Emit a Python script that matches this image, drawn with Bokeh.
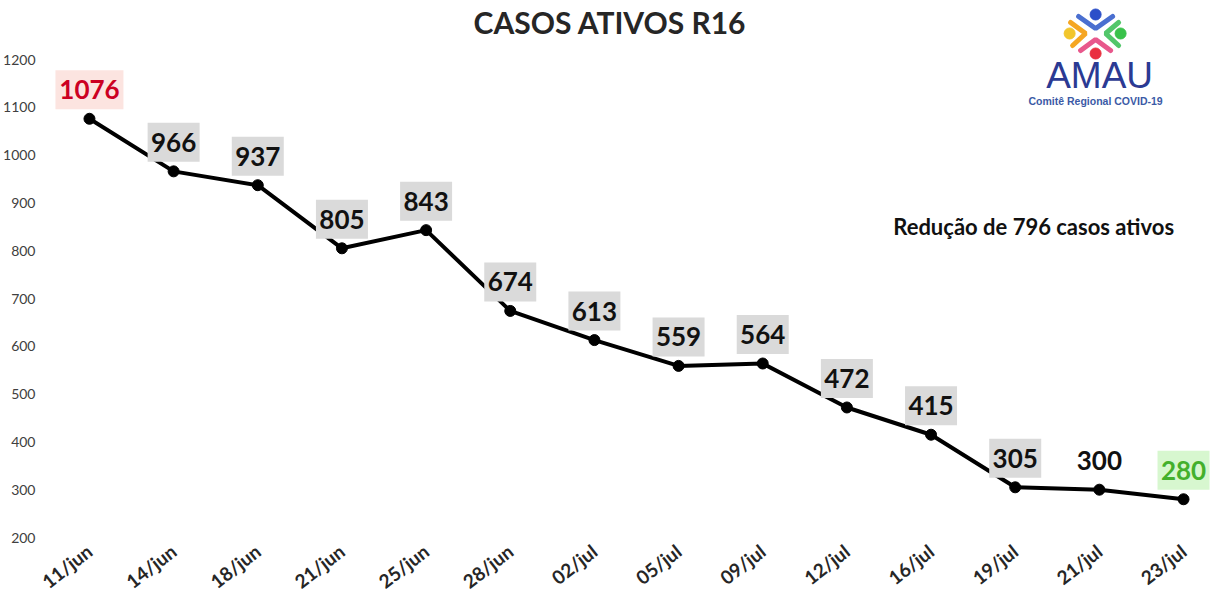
import numpy as np
from bokeh.plotting import figure
from bokeh.models import ColumnDataSource, Range1d, FixedTicker
from bokeh.core.properties import value
from bokeh.embed import file_html
from bokeh.resources import INLINE

# data
dates = ["11/jun", "14/jun", "18/jun", "21/jun", "25/jun", "28/jun", "02/jul",
         "05/jul", "09/jul", "12/jul", "16/jul", "19/jul", "21/jul", "23/jul"]
active_cases = [1076, 966, 937, 805, 843, 674, 613, 559, 564, 472, 415, 305, 300, 280]
y_ticks = [200, 300, 400, 500, 600, 700, 800, 900, 1000, 1100, 1200]

title_text = "CASOS ATIVOS R16"
note_text = "Redução de 796 casos ativos"

# label styling per point (first red, last green, 300 without a box)
box_fill = ["#fce4e0"] + ["#dadada"] * 11 + [None, "#d7f7cf"]
label_color = ["#cc0022"] + ["#111111"] * 12 + ["#44b02c"]

FONT = "Lato"

# screen pixel -> data helpers (used only for decoration placement)
PX_PER_X = 84.23
PX_PER_Y = 0.478


def sx(px):
    return (px - 88) / PX_PER_X


def sy(py):
    return 1200 - (py - 59) / PX_PER_Y


p = figure(width=1226, height=606, output_backend="svg", toolbar_location=None,
           x_range=Range1d(sx(40), sx(1226)), y_range=Range1d(sy(545), sy(0)),
           min_border_left=40, min_border_right=0, min_border_top=0, min_border_bottom=61)
p.outline_line_color = None
p.xgrid.visible = False
p.ygrid.visible = False
p.background_fill_color = "white"
p.border_fill_color = "white"

x = np.arange(len(dates))
vals = np.array(active_cases)

p.line(x, vals, line_width=4, color="black")
p.scatter(x, vals, size=11, color="black")

# value labels with boxes
lift = 29 / PX_PER_Y
widths = [68 if v >= 1000 else 52 for v in active_cases]
src = ColumnDataSource(dict(
    x=x, y=vals + lift, w=widths,
    fill=[c if c else "white" for c in box_fill],
    alpha=[1.0 if c else 0.0 for c in box_fill],
    txt=[str(v) for v in active_cases], tc=label_color,
))
p.rect("x", "y", width="w", height=39, width_units="screen", height_units="screen",
       fill_color="fill", fill_alpha="alpha", line_color=None, source=src)
p.text("x", "y", text="txt", text_color="tc", text_font=value(FONT),
       text_font_style="bold", text_font_size="26px", text_align="center",
       text_baseline="middle", source=src)

# title and note
p.text([sx(609)], [sy(21)], text=[title_text], text_font=value(FONT),
       text_font_style="bold", text_font_size="30px", text_color="#262626",
       text_align="center", text_baseline="middle")
p.text([sx(1033)], [sy(226)], text=[note_text], text_font=value(FONT),
       text_font_style="bold", text_font_size="22px", text_color="#111111",
       text_align="center", text_baseline="middle")

# logo (approximation)
chev_x = [[sx(1078), sx(1095), sx(1112)], [sx(1070), sx(1085), sx(1072)],
          [sx(1118), sx(1105), sx(1118)], [sx(1080), sx(1095), sx(1110)]]
chev_y = [[sy(16), sy(28), sy(16)], [sy(22), sy(33), sy(45)],
          [sy(22), sy(33), sy(45)], [sy(50), sy(39), sy(50)]]
p.multi_line(chev_x, chev_y, line_width=5,
             color=["#4a6fd0", "#f5a623", "#52c66a", "#e8588c"], line_cap="round")
p.scatter([sx(1095), sx(1069), sx(1120), sx(1095)], [sy(14), sy(33), sy(33), sy(53)],
          size=11, color=["#2c4fc9", "#f2c62c", "#39c24b", "#e9303f"])
p.text([sx(1099)], [sy(75)], text=["AMAU"], text_font=value("Liberation Sans"),
       text_font_size="37px", text_color="#2b3a93", text_align="center",
       text_baseline="middle")
p.text([sx(1095)], [sy(100)], text=["Comitê Regional COVID-19"],
       text_font=value("Liberation Sans"), text_font_style="bold",
       text_font_size="10.5px", text_color="#3b5aa6", text_align="center",
       text_baseline="middle")

# axes
p.yaxis.ticker = FixedTicker(ticks=y_ticks)
p.yaxis.axis_line_color = None
p.yaxis.major_tick_line_color = None
p.yaxis.minor_tick_line_color = None
p.yaxis.major_tick_out = 0
p.yaxis.major_tick_in = 0
p.yaxis.major_label_standoff = 6
p.yaxis.major_label_text_font = FONT
p.yaxis.major_label_text_font_size = "14px"
p.yaxis.major_label_text_color = "#404040"

p.xaxis.ticker = FixedTicker(ticks=list(x))
p.xaxis.major_label_overrides = {int(i): d for i, d in zip(x, dates)}
p.xaxis.axis_line_color = None
p.xaxis.major_tick_line_color = None
p.xaxis.minor_tick_line_color = None
p.xaxis.major_tick_out = 0
p.xaxis.major_tick_in = 0
p.xaxis.major_label_orientation = 0.66
p.xaxis.major_label_standoff = 3
p.xaxis.major_label_text_font = FONT
p.xaxis.major_label_text_font_style = "bold"
p.xaxis.major_label_text_font_size = "19px"
p.xaxis.major_label_text_color = "#262626"

open("out.html", "w").write(file_html(p, INLINE))
